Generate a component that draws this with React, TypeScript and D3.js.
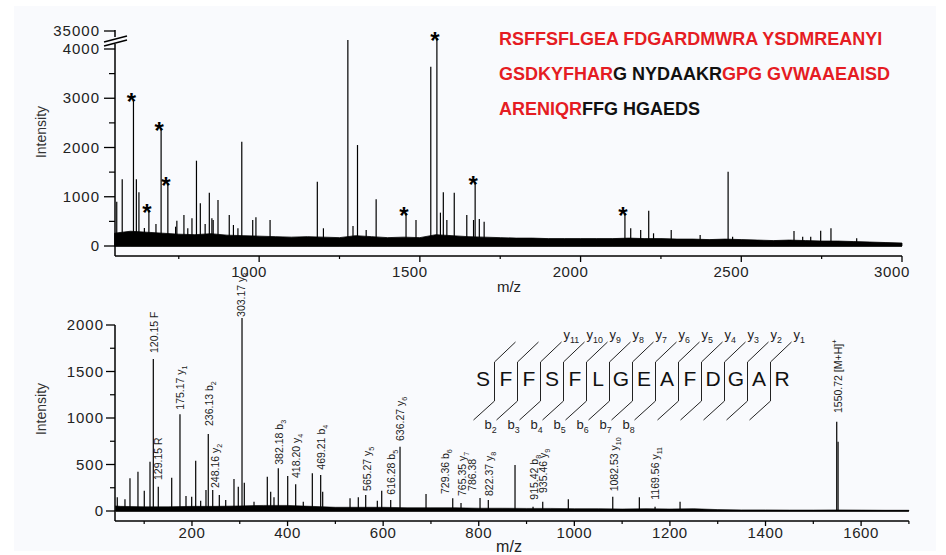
import React from 'react';
import * as d3 from 'd3';

// ---------- Top spectrum: peptide mass fingerprint ----------
const topPeakMz = [557, 574, 609, 618, 626, 643, 657, 679, 695, 716, 740, 744, 766, 778, 791, 805, 817, 832, 845, 853, 857, 872, 907, 920, 934, 946, 980, 990, 1034, 1181, 1200, 1276, 1292, 1306, 1333, 1364, 1457, 1488, 1534, 1553, 1564, 1573, 1584, 1607, 1646, 1667, 1672, 1685, 1700, 2138, 2156, 2187, 2212, 2227, 2282, 2372, 2459, 2473, 2664, 2691, 2716, 2747, 2779, 2859];
const topPeakInt = [900, 1355, 2985, 1355, 1090, 365, 730, 447, 2390, 1273, 392, 514, 630, 360, 562, 1732, 867, 447, 1083, 562, 528, 934, 630, 426, 360, 2118, 528, 582, 528, 1305, 360, 19500, 406, 2050, 325, 948, 664, 528, 3640, 23000, 677, 1090, 528, 1083, 630, 528, 1305, 548, 494, 664, 360, 325, 717, 258, 325, 223, 1509, 189, 305, 189, 189, 311, 360, 156];
const topStarMz = [609, 657, 695, 716, 1457, 1553, 1672, 2138];
const topNoiseMz = [550, 600, 650, 700, 750, 800, 850, 900, 950, 1000, 1050, 1100, 1150, 1200, 1250, 1300, 1350, 1400, 1450, 1500, 1550, 1600, 1650, 1700, 1750, 1800, 1850, 1900, 1950, 2000, 2050, 2100, 2150, 2200, 2250, 2300, 2350, 2400, 2450, 2500, 2550, 2600, 2650, 2700, 2750, 2800, 2850, 2900, 2950, 3000];
const topNoiseInt = [260, 300, 280, 260, 240, 230, 250, 220, 210, 200, 190, 180, 190, 180, 170, 210, 190, 170, 180, 170, 230, 210, 190, 180, 170, 160, 160, 150, 150, 150, 150, 150, 160, 150, 150, 140, 140, 130, 140, 130, 120, 110, 120, 110, 100, 100, 90, 80, 70, 60];
const topYTicks = [0, 1000, 2000, 3000, 4000];
const topYMinor = [500, 1500, 2500, 3500];
const topYBreakTick = 35000;
const topXTicks = [1000, 1500, 2000, 2500, 3000];
const topXMinor = [750, 1250, 1750, 2250, 2750];

// protein sequence, [segment, matched]
const seqLine1: [string, boolean][] = [['RSFFSFLGEA FDGARDMWRA YSDMREANYI', true]];
const seqLine2: [string, boolean][] = [['GSDKYFHAR', true], ['G NYDAAKR', false], ['GPG GVWAAEAISD', true]];
const seqLine3: [string, boolean][] = [['ARENIQR', true], ['FFG HGAEDS', false]];
const seqLines = [seqLine1, seqLine2, seqLine3];

// ---------- Bottom spectrum: MS/MS ----------
const msPeakMz = [43.7, 59.8, 70.3, 87.0, 100.2, 112.2, 119.1, 129.5, 157.6, 174.9, 187.5, 199.4, 207.8, 218.2, 229.3, 234.1, 243.4, 257.2, 270.6, 287.9, 296.9, 304.7, 309.5, 329.8, 357.6, 364.7, 371.6, 380.6, 400.3, 417.0, 432.9, 451.8, 469.3, 473.5, 530.7, 548.0, 563.5, 587.8, 597.0, 615.8, 635.3, 689.7, 745.6, 762.9, 802.7, 820.0, 875.9, 913.6, 933.9, 987.4, 1080.4, 1136.0, 1168.9, 1221.2, 1549.0, 1551.8];
const msPeakInt = [147, 126, 351, 423, 218, 530, 1634, 261, 358, 1040, 161, 154, 541, 111, 226, 828, 226, 172, 118, 344, 261, 2075, 305, 100, 369, 208, 147, 459, 376, 287, 100, 405, 387, 208, 136, 147, 172, 111, 218, 118, 691, 183, 136, 86, 140, 118, 495, 46, 100, 126, 154, 147, 46, 100, 960, 745];
const msNoiseMz = [40, 50, 100, 150, 200, 250, 300, 350, 400, 450, 500, 550, 600, 650, 700, 750, 800, 850, 900, 950, 1000, 1050, 1100, 1150, 1200, 1250, 1300, 1350, 1400, 1450, 1500, 1550, 1600, 1650, 1700];
const msNoiseInt = [55, 50, 45, 45, 50, 50, 55, 60, 60, 50, 40, 40, 40, 35, 35, 35, 30, 30, 28, 28, 25, 25, 22, 25, 22, 25, 15, 12, 12, 10, 10, 12, 10, 8, 8];
const annMz = [120.15, 129.15, 175.17, 236.13, 248.16, 303.17, 382.18, 418.20, 469.21, 565.27, 616.28, 636.27, 729.36, 765.35, 786.38, 822.37, 915.42, 935.46, 1082.53, 1169.56, 1550.72];
const annIon = ['F', 'R', 'y1', 'b2', 'y2', 'y3', 'b3', 'y4', 'b4', 'y5', 'b5', 'y6', 'b6', 'y7', '', 'y8', 'b8', 'y9', 'y10', 'y11', '[M+H]+'];
const annLevel = [1677, 312, 1068, 892, 226, 2065, 476, 333, 423, 194, 154, 731, 161, 140, 194, 140, 100, 172, 190, 100, 1032];
const msYTicks = [0, 500, 1000, 1500, 2000];
const msYMinor = [250, 750, 1250, 1750];
const msXTicks = [200, 400, 600, 800, 1000, 1200, 1400, 1600];
const msXMinor = [100, 300, 500, 700, 900, 1100, 1300, 1500, 1700];

// fragmentation map
const peptide = 'SFFSFLGEAFDGAR'.split('');
const bIons = [2, 3, 4, 5, 6, 7, 8];
const yIons = [11, 10, 9, 8, 7, 6, 5, 4, 3, 2, 1];

const FONT = 'Liberation Sans, Arial, Helvetica, sans-serif';
const RED = '#e51c23';
const INK = '#1a1a1a';

function ionTspans(ion: string, fs: number) {
  if (!ion) return null;
  const m = ion.match(/^([by])(\d+)$/);
  if (m) {
    return [
      <tspan key="a">{m[1]}</tspan>,
      <tspan key="b" fontSize={fs * 0.68} dy={fs * 0.28}>{m[2]}</tspan>,
    ];
  }
  if (ion === '[M+H]+') {
    return [
      <tspan key="a">[M+H]</tspan>,
      <tspan key="b" fontSize={fs * 0.7} dy={-fs * 0.4}>+</tspan>,
    ];
  }
  return <tspan>{ion}</tspan>;
}

export default function App() {
  const xT = d3.scaleLinear().domain([550, 3000]).range([114.5, 902]);
  const yT = d3.scaleLinear().domain([0, 4000, 35000]).range([246, 49, 31]);
  const xB = d3.scaleLinear().domain([40, 1700]).range([115.5, 908.9]);
  const yB = d3.scaleLinear().domain([0, 2000]).range([511, 325]);
  const xP = d3.scalePoint<number>().domain(d3.range(peptide.length)).range([483, 782]);

  const topNoise = d3.area<number>()
    .x((_, i) => xT(topNoiseMz[i]))
    .y0(yT(0))
    .y1((d) => yT(d))(topNoiseInt) || '';
  const msNoise = d3.area<number>()
    .x((_, i) => xB(msNoiseMz[i]))
    .y0(yB(0))
    .y1((d) => yB(d))(msNoiseInt) || '';

  const fmt = d3.format('.2f');
  const axisX0 = 115;
  const topBase = 256;
  const msBase = 521;

  const sepX = d3.range(1, peptide.length).map((i) => (xP(i - 1)! + xP(i)!) / 2);
  const vTop = 362, vBot = 401, dxd = 21, dyTop = 20, dyBot = 19;

  return (
    <svg width={946} height={555} style={{ position: 'absolute', left: 0, top: 0, fontFamily: FONT }}>
      <rect x={0} y={0} width={946} height={555} fill="#ffffff" />
      <rect x={14} y={6} width={922} height={545} fill="#f9fafd" />

      {/* ===== TOP CHART ===== */}
      <path d={topNoise} fill="#000" stroke="#000" strokeWidth={0.8} />
      <line x1={xT(550)} x2={xT(3000)} y1={yT(0)} y2={yT(0)} stroke="#000" strokeWidth={1.5} />
      {topPeakMz.map((mz, i) => (
        <line key={'tp' + i} x1={xT(mz)} x2={xT(mz)} y1={yT(0)} y2={yT(topPeakInt[i])} stroke="#000" strokeWidth={1.2} />
      ))}
      {topStarMz.map((mz, i) => {
        const v = topPeakInt[topPeakMz.indexOf(mz)];
        return (
          <text key={'st' + i} x={xT(mz) - 2} y={yT(v) + 11} fontSize={24} fontWeight="bold" textAnchor="middle" fill="#000">*</text>
        );
      })}
      {/* y axis with break */}
      <line x1={axisX0} x2={axisX0} y1={topBase} y2={44} stroke="#000" strokeWidth={1.5} />
      <line x1={axisX0} x2={axisX0} y1={37} y2={30} stroke="#000" strokeWidth={1.5} />
      <line x1={104} x2={127} y1={42} y2={36} stroke="#000" strokeWidth={1.3} />
      <line x1={104} x2={127} y1={46} y2={40} stroke="#000" strokeWidth={1.3} />
      {topYTicks.map((t) => (
        <g key={'tyt' + t}>
          <line x1={104} x2={axisX0} y1={yT(t)} y2={yT(t)} stroke="#000" strokeWidth={1.3} />
          <text x={100} y={yT(t) + 5} fontSize={15} letterSpacing={1} textAnchor="end" fill="#222">{t}</text>
        </g>
      ))}
      <line x1={104} x2={axisX0} y1={yT(topYBreakTick)} y2={yT(topYBreakTick)} stroke="#000" strokeWidth={1.3} />
      <text x={100} y={yT(topYBreakTick) + 5} fontSize={15} letterSpacing={1} textAnchor="end" fill="#222">{topYBreakTick}</text>
      {topYMinor.map((t) => (
        <line key={'tym' + t} x1={109} x2={axisX0} y1={yT(t)} y2={yT(t)} stroke="#000" strokeWidth={1.2} />
      ))}
      {/* x axis */}
      <line x1={axisX0} x2={xT(3000)} y1={topBase} y2={topBase} stroke="#000" strokeWidth={1.5} />
      {topXTicks.map((t) => (
        <g key={'txt' + t}>
          <line x1={xT(t)} x2={xT(t)} y1={topBase} y2={topBase + 6} stroke="#000" strokeWidth={1.3} />
          <text x={xT(t) - 10} y={276.5} fontSize={15} letterSpacing={0.6} textAnchor="middle" fill="#222">{t}</text>
        </g>
      ))}
      {topXMinor.map((t) => (
        <line key={'txm' + t} x1={xT(t)} x2={xT(t)} y1={topBase} y2={topBase + 3} stroke="#000" strokeWidth={1.2} />
      ))}
      <text x={509} y={292} fontSize={15} textAnchor="middle" fill="#222">m/z</text>
      <text transform="translate(46,132) rotate(-90)" fontSize={14} textAnchor="middle" fill="#333">Intensity</text>

      {/* sequence */}
      {seqLines.map((line, li) => (
        <text key={'sq' + li} x={499} y={44.5 + li * 35} fontSize={18} fontWeight="bold">
          {line.map(([s, m], si) => (
            <tspan key={si} fill={m ? RED : '#111'}>{s}</tspan>
          ))}
        </text>
      ))}

      {/* ===== BOTTOM CHART ===== */}
      <path d={msNoise} fill="#000" stroke="#000" strokeWidth={0.6} />
      <line x1={xB(40)} x2={xB(1700)} y1={yB(0)} y2={yB(0)} stroke="#000" strokeWidth={1.5} />
      {msPeakMz.map((mz, i) => (
        <line key={'mp' + i} x1={xB(mz)} x2={xB(mz)} y1={yB(0)} y2={yB(msPeakInt[i])} stroke="#000" strokeWidth={1.2} />
      ))}
      {annMz.map((mz, i) => (
        <text key={'an' + i} transform={`translate(${xB(mz) + 4},${yB(annLevel[i]) - 2}) rotate(-90)`} fontSize={10.5} fill={INK}>
          <tspan>{fmt(mz)}{annIon[i] ? ' ' : ''}</tspan>
          {ionTspans(annIon[i], 10.5)}
        </text>
      ))}
      {/* axes */}
      <line x1={axisX0} x2={axisX0} y1={yB(2000)} y2={msBase} stroke="#000" strokeWidth={1.5} />
      {msYTicks.map((t) => (
        <g key={'myt' + t}>
          <line x1={106} x2={axisX0} y1={yB(t)} y2={yB(t)} stroke="#000" strokeWidth={1.3} />
          <text x={104} y={yB(t) + 5} fontSize={15} letterSpacing={1} textAnchor="end" fill="#222">{t}</text>
        </g>
      ))}
      {msYMinor.map((t) => (
        <line key={'mym' + t} x1={110} x2={axisX0} y1={yB(t)} y2={yB(t)} stroke="#000" strokeWidth={1.2} />
      ))}
      <line x1={axisX0} x2={xB(1700)} y1={msBase} y2={msBase} stroke="#000" strokeWidth={1.5} />
      {msXTicks.map((t) => (
        <g key={'mxt' + t}>
          <line x1={xB(t)} x2={xB(t)} y1={msBase} y2={msBase + 5} stroke="#000" strokeWidth={1.3} />
          <text x={xB(t)} y={538} fontSize={15} letterSpacing={0.6} textAnchor="middle" fill="#222">{t}</text>
        </g>
      ))}
      {msXMinor.map((t) => (
        <line key={'mxm' + t} x1={xB(t)} x2={xB(t)} y1={msBase} y2={msBase + 3} stroke="#000" strokeWidth={1.2} />
      ))}
      <text x={509} y={552} fontSize={16} textAnchor="middle" fill="#222">m/z</text>
      <text transform="translate(46,409) rotate(-90)" fontSize={14} textAnchor="middle" fill="#333">Intensity</text>

      {/* fragmentation map */}
      {peptide.map((aa, i) => (
        <text key={'aa' + i} x={xP(i)} y={385.5} fontSize={21} textAnchor="middle" fill="#111">{aa}</text>
      ))}
      {sepX.map((x, i) => (
        <path key={'sp' + i}
          d={`M${x + dxd},${vTop - dyTop}L${x},${vTop}L${x},${vBot}L${x - dxd},${vBot + dyBot}`}
          fill="none" stroke="#222" strokeWidth={1} />
      ))}
      {yIons.map((n) => {
        const x = sepX[peptide.length - n - 1];
        return (
          <text key={'yi' + n} x={x + dxd + 2} y={339} fontSize={13} fill="#222">{ionTspans('y' + n, 13)}</text>
        );
      })}
      {bIons.map((n) => {
        const x = sepX[n - 1];
        return (
          <text key={'bi' + n} x={x - dxd - 6} y={429} fontSize={13} textAnchor="middle" fill="#222">{ionTspans('b' + n, 13)}</text>
        );
      })}
    </svg>
  );
}
